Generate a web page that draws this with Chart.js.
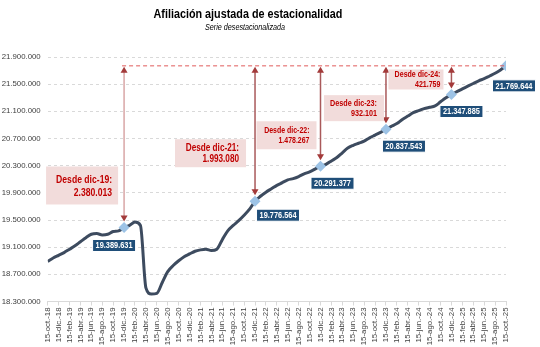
<!DOCTYPE html>
<html>
<head>
<meta charset="utf-8">
<script src="https://cdn.jsdelivr.net/npm/chart.js@4/dist/chart.umd.min.js"></script>
<style>
  html, body { margin: 0; padding: 0; background: #fff; }
  #wrap { width: 540px; height: 347px; }
</style>
</head>
<body>
<div id="wrap"><canvas id="afiliacion" width="540" height="347"></canvas></div>
<script>
// etiquetas del eje X (cada dos meses)
const tickLabels = [
  '15-oct.-18','15-dic.-18',
  '15-feb.-19','15-abr.-19','15-jun.-19','15-ago.-19','15-oct.-19','15-dic.-19',
  '15-feb.-20','15-abr.-20','15-jun.-20','15-ago.-20','15-oct.-20','15-dic.-20',
  '15-feb.-21','15-abr.-21','15-jun.-21','15-ago.-21','15-oct.-21','15-dic.-21',
  '15-feb.-22','15-abr.-22','15-jun.-22','15-ago.-22','15-oct.-22','15-dic.-22',
  '15-feb.-23','15-abr.-23','15-jun.-23','15-ago.-23','15-oct.-23','15-dic.-23',
  '15-feb.-24','15-abr.-24','15-jun.-24','15-ago.-24','15-oct.-24','15-dic.-24',
  '15-feb.-25','15-abr.-25','15-jun.-25','15-ago.-25','15-oct.-25'
];

// afiliados, serie desestacionalizada (un dato al mes, oct-18 .. oct-25)
const afiliados = [
  18890000, 18940000, 18980000, 19020000, 19070000, 19120000, 19180000, 19240000,
  19290000, 19300000, 19280000, 19290000, 19330000, 19340000, 19389631, 19420000,
  19470000, 19420000, 18500000, 18410000, 18420000, 18580000, 18740000, 18830000,
  18900000, 18960000, 19000000, 19040000, 19060000, 19070000, 19050000, 19070000,
  19210000, 19340000, 19420000, 19490000, 19570000, 19660000, 19776564, 19850000,
  19910000, 19960000, 20010000, 20050000, 20090000, 20110000, 20140000, 20180000,
  20210000, 20250000, 20291377, 20320000, 20370000, 20420000, 20490000, 20560000,
  20600000, 20630000, 20660000, 20710000, 20750000, 20790000, 20837543, 20880000,
  20920000, 20980000, 21030000, 21080000, 21110000, 21140000, 21160000, 21180000,
  21240000, 21300000, 21347885, 21390000, 21430000, 21470000, 21510000, 21550000,
  21580000, 21620000, 21660000, 21710000, 21769644
];

// puntos destacados: diciembres y ultimo dato
const markerIdx = [14, 38, 50, 62, 74, 84];
const markerTags = ['dic-19', 'dic-21', 'dic-22', 'dic-23', 'dic-24', 'oct-25'];

const yMin = 18300000, yMax = 21900000, yStep = 400000;

// cajas "Desde ..." (posicion relativa al punto)
const notes = [
  { dx: -78, dy: -61, w: 72, h: 38, size: 10.5, l1: 14, l2: 27, pad: 6, shaft: '#d9a6a6' },
  { dx: -80, dy: -62, w: 71, h: 28, size: 10,   l1: 9,  l2: 20, pad: 7, shaft: '#a9595a' },
  { dx: -64, dy: -45, w: 60, h: 28, size: 8.5,  l1: 9,  l2: 19, pad: 7, shaft: '#a9595a' },
  { dx: -62, dy: -34, w: 60, h: 26, size: 8.8,  l1: 8,  l2: 18, pad: 7, shaft: '#a9595a' },
  { dx: -63, dy: -25, w: 55, h: 20, size: 8.6,  l1: 5,  l2: 15, pad: 3, shaft: '#a9595a' }
];
// etiquetas de valor (centro relativo al punto)
const valOffsets = [[-10, 18], [23, 14], [12, 17], [18, 17], [10, 17], [8, 20]];

const FONT = '"Liberation Sans", Arial, sans-serif';

function fmt(n) {
  return String(Math.round(n)).replace(/\B(?=(\d{3})+(?!\d))/g, '.');
}

// texto estrechado en horizontal (la fuente original es mas estrecha)
function narrowText(ctx, text, x, y, font, align, sx) {
  ctx.save();
  ctx.font = font;
  ctx.textAlign = align;
  ctx.textBaseline = 'middle';
  ctx.translate(x, y);
  ctx.scale(sx, 1);
  ctx.fillText(text, 0, 0);
  ctx.restore();
}

const serie = afiliados.map((v, i) => ({ x: i, y: v }));

const extras = {
  id: 'extras',
  afterDatasetsDraw(chart) {
    const ctx = chart.ctx;
    const xs = chart.scales.x, ys = chart.scales.y;
    const last = afiliados[afiliados.length - 1];
    const yTop = ys.getPixelForValue(last);

    ctx.save();
    // linea horizontal discontinua al nivel del ultimo dato
    ctx.strokeStyle = '#e05a5a';
    ctx.lineWidth = 1;
    ctx.setLineDash([4, 3]);
    ctx.beginPath();
    ctx.moveTo(xs.getPixelForValue(markerIdx[0]) - 2, yTop);
    ctx.lineTo(xs.getPixelForValue(markerIdx[markerIdx.length - 1]), yTop);
    ctx.stroke();
    ctx.setLineDash([]);

    // flechas y cajas de diferencia
    notes.forEach((n, k) => {
      const idx = markerIdx[k];
      const val = afiliados[idx];
      const x = xs.getPixelForValue(idx);
      const y = ys.getPixelForValue(val);
      const yB = y - 6;

      ctx.strokeStyle = n.shaft;
      ctx.lineWidth = 1.5;
      ctx.beginPath();
      ctx.moveTo(x, yTop + 5);
      ctx.lineTo(x, yB - 4);
      ctx.stroke();

      ctx.fillStyle = '#a33a3a';
      ctx.beginPath();
      ctx.moveTo(x, yTop + 1);
      ctx.lineTo(x - 3.5, yTop + 7);
      ctx.lineTo(x + 3.5, yTop + 7);
      ctx.closePath();
      ctx.fill();
      ctx.beginPath();
      ctx.moveTo(x, yB);
      ctx.lineTo(x - 3.5, yB - 6);
      ctx.lineTo(x + 3.5, yB - 6);
      ctx.closePath();
      ctx.fill();

      const bx = x + n.dx, by = y + n.dy;
      ctx.fillStyle = '#f2dcdb';
      ctx.fillRect(bx, by, n.w, n.h);
      ctx.fillStyle = '#c00000';
      const f = 'bold ' + n.size + 'px ' + FONT;
      narrowText(ctx, 'Desde ' + markerTags[k] + ':', bx + n.w - n.pad, by + n.l1, f, 'right', 0.82);
      narrowText(ctx, fmt(last - val), bx + n.w - n.pad, by + n.l2, f, 'right', 0.82);
    });

    // etiquetas de valor
    markerIdx.forEach((idx, k) => {
      const x = xs.getPixelForValue(idx) + valOffsets[k][0];
      const y = ys.getPixelForValue(afiliados[idx]) + valOffsets[k][1];
      const w = 43, h = 12;
      ctx.fillStyle = '#1f4e79';
      ctx.fillRect(x - w / 2, y - h / 2, w, h);
      ctx.strokeStyle = '#ffffff';
      ctx.lineWidth = 1;
      ctx.strokeRect(x - w / 2, y - h / 2, w, h);
      ctx.fillStyle = '#ffffff';
      narrowText(ctx, fmt(afiliados[idx]), x, y + 0.5, 'bold 9px ' + FONT, 'center', 0.82);
    });

    // titulo y subtitulo
    ctx.fillStyle = '#000';
    narrowText(ctx, 'Afiliación ajustada de estacionalidad', 248, 14, 'bold 13px ' + FONT, 'center', 0.83);
    narrowText(ctx, 'Serie desestacionalizada', 245, 27, 'italic 9px ' + FONT, 'center', 0.8);
    ctx.restore();
  }
};

new Chart(document.getElementById('afiliacion'), {
  type: 'line',
  data: {
    datasets: [{
      data: serie,
      borderColor: '#3d4b5f',
      borderWidth: 3,
      cubicInterpolationMode: 'monotone',
      pointStyle: 'rectRot',
      pointRadius: c => markerIdx.includes(c.dataIndex) ? 5.5 : 0,
      pointHoverRadius: 0,
      pointBackgroundColor: '#9dc3e6',
      pointBorderColor: '#9dc3e6',
      pointBorderWidth: 0
    }]
  },
  options: {
    responsive: false,
    animation: false,
    devicePixelRatio: 1,
    layout: { padding: { top: 57, right: 34, left: 0, bottom: 0 } },
    plugins: { legend: { display: false }, tooltip: { enabled: false } },
    scales: {
      x: {
        type: 'linear',
        min: 0,
        max: afiliados.length - 1,
        afterFit: s => { s.height = 45.5; },
        afterBuildTicks: s => {
          s.ticks = tickLabels.map((_, i) => ({ value: i * 2 }));
        },
        ticks: {
          autoSkip: false,
          minRotation: 90,
          maxRotation: 90,
          padding: 2,
          color: '#404040',
          font: { family: FONT, size: 7.8 },
          callback: v => tickLabels[v / 2]
        },
        grid: { drawOnChartArea: false, drawTicks: true, tickLength: 4, color: '#d9d9d9' },
        border: { display: true, color: '#d9d9d9' }
      },
      y: {
        min: yMin,
        max: yMax,
        afterFit: s => { s.width = 47.7; },
        afterBuildTicks: s => {
          const t = [];
          for (let v = yMin; v <= yMax; v += yStep) t.push({ value: v });
          s.ticks = t;
        },
        ticks: {
          padding: 7,
          color: '#404040',
          font: { family: FONT, size: 7.8 },
          callback: v => fmt(v)
        },
        grid: { color: '#d9d9d9', drawTicks: false, lineWidth: 1 },
        border: { display: false, dash: [3, 3] }
      }
    }
  },
  plugins: [extras]
});
</script>
</body>
</html>
